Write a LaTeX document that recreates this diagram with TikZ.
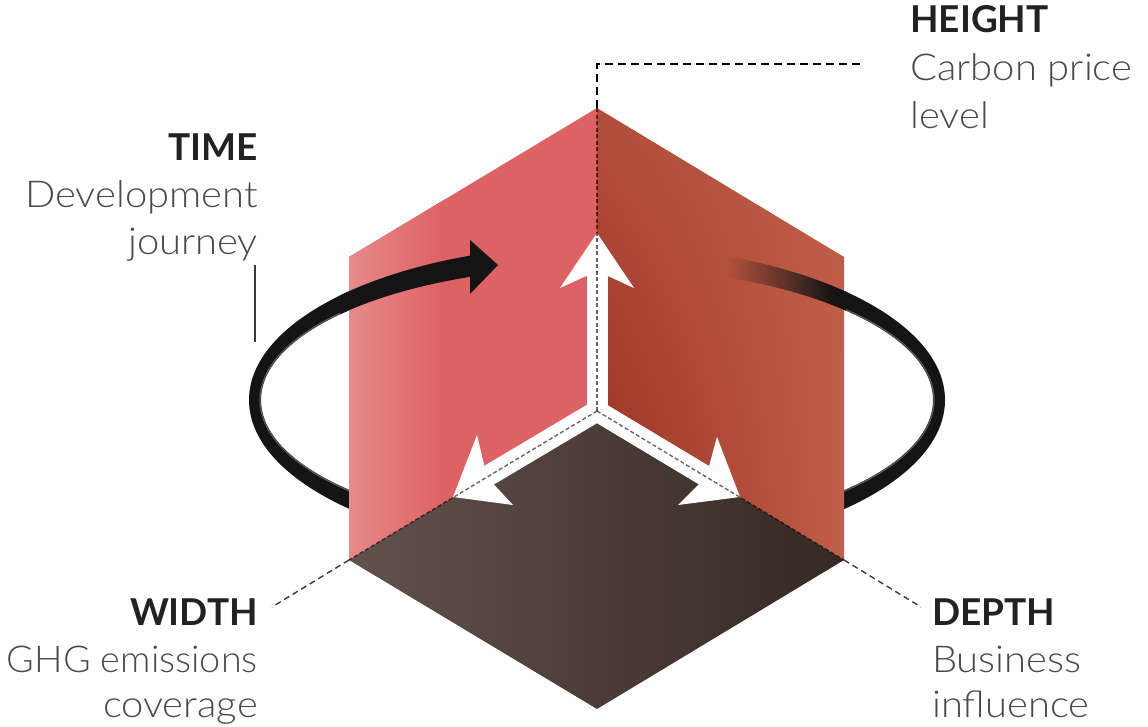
\documentclass[tikz,border=0pt]{standalone}
\usepackage{fontspec}
\setmainfont{Lato}[UprightFont=* Light, UprightFeatures={FakeStretch=1.08}, BoldFont=* Bold]
\newfontfamily\narrowlight{Lato}[UprightFont=* Light, UprightFeatures={FakeStretch=1.02}]
\usetikzlibrary{fadings,shadings}

\definecolor{wallL}{HTML}{DE6163}
\definecolor{wallLhi}{HTML}{E68A8A}
\definecolor{wallRul}{HTML}{B24F3B}
\definecolor{wallRur}{HTML}{BF5E48}
\definecolor{wallRll}{HTML}{962C1E}
\definecolor{wallRlr}{HTML}{C06049}
\definecolor{floorA}{HTML}{61524B}
\definecolor{floorM}{HTML}{55473F}
\definecolor{floorB}{HTML}{362922}
\definecolor{ribbon}{HTML}{141414}
\definecolor{ribbonedge}{HTML}{5A5A5A}
\definecolor{headtxt}{HTML}{222222}
\definecolor{bodytxt}{HTML}{4A4A4A}
\definecolor{leader}{HTML}{3A3A3A}

\tikzset{
  headlabel/.style={inner sep=0pt, font=\fontsize{37}{44}\selectfont\bfseries, text=headtxt},
  bodylabel/.style={inner sep=0pt, font=\fontsize{37}{44}\selectfont, text=bodytxt},
  leaderdash/.style={draw=leader, line width=1.4pt, dash pattern=on 6pt off 4pt},
  edgedash/.style={draw=black, draw opacity=0.6, line width=1.4pt, dash pattern=on 4pt off 2.5pt},
  whiteband/.style={draw=white, line width=21pt, line join=miter},
  ringband/.style={fill=ribbon, even odd rule}
}

\newcommand{\ringshape}{(597,400) ellipse [x radius=348pt, y radius=155pt]
  (597,400) ellipse [x radius=336pt, y radius=133pt]}

\begin{document}
\begin{tikzpicture}[x=1pt, y=-1pt]
\useasboundingbox (0,0) rectangle (1148,726);

% cube corners
\coordinate (T)  at (597,108);
\coordinate (O)  at (597,411);
\coordinate (LT) at (349,257);
\coordinate (LB) at (349,560);
\coordinate (RT) at (844,257);
\coordinate (RB) at (844,560);
\coordinate (B)  at (597,709);

% ring, back part (hidden where the cube stands in front)
\fill[ringband] \ringshape;
\draw[ribbonedge, line width=1.3pt] (597,400) ellipse [x radius=337pt, y radius=134pt];

% left wall
\fill[wallL] (T) -- (LT) -- (LB) -- (O) -- cycle;
\begin{scope}
  \clip (T) -- (LT) -- (LB) -- (O) -- cycle;
  \shade[left color=wallLhi, right color=wallL] (349,100) rectangle (445,570);
\end{scope}

% right wall
\shade[upper left=wallRul, upper right=wallRur, lower left=wallRll, lower right=wallRlr]
  (T) -- (RT) -- (RB) -- (O) -- cycle;

% floor
\shade[left color=floorA, middle color=floorM, right color=floorB]
  (O) -- (LB) -- (B) -- (RB) -- cycle;

% ring, front part over the left wall with its arrowhead
\begin{scope}
  \clip (340,0) rectangle (471,400);
  \fill[ringband] \ringshape;
\end{scope}
\fill[ribbon] (470,240) -- (498,265) -- (470,294) -- cycle;

% ring, front part fading in over the right wall
\begin{scope}[even odd rule]
  \clip \ringshape;
  \fill[ribbon, path fading=west] (727,230) rectangle (832,330);
  \fill[ribbon] (831,230) rectangle (846,330);
\end{scope}

% white axis arrows along the inner edges
\draw[whiteband] (486,477) -- (O) -- (707,477);
\draw[whiteband] (O) -- (597,272);
\fill[white] (597,233) -- (634,288) -- (597,271) -- (560,288) -- cycle;
\fill[white] (453,497) -- (477,435) -- (487,477) -- (513,505) -- cycle;
\fill[white] (740,497) -- (717,437) -- (706,477) -- (678,505) -- cycle;

% dashed inner edges
\draw[edgedash] (T) -- (O);
\draw[edgedash] (O) -- (LB);
\draw[edgedash] (O) -- (RB);

% labels
\node[headlabel, anchor=base west] (hHead) at (910,32) {HEIGHT};
\node[bodylabel, anchor=base west] (hL1) at (910,80) {Carbon price};
\node[bodylabel, anchor=base west] (hL2) at (910,128) {level};

\node[headlabel, anchor=base east] (tHead) at (258,160) {TIME};
\node[bodylabel, anchor=base east] (tL1) at (258,207) {Development};
\node[bodylabel, anchor=base east] (tL2) at (258,254) {journey};

\node[headlabel, anchor=base east] (wHead) at (258,625) {WIDTH};
\node[bodylabel, anchor=base east] (wL1) at (258,672) {\narrowlight GHG emissions};
\node[bodylabel, anchor=base east] (wL2) at (258,717) {coverage};

\node[headlabel, anchor=base west] (dHead) at (932,625) {DEPTH};
\node[bodylabel, anchor=base west] (dL1) at (932,672) {Business};
\node[bodylabel, anchor=base west] (dL2) at (932,717) {influence};

% leader lines
\coordinate (hEnd) at (862,64);
\coordinate (tTop) at (255,265);
\coordinate (tBot) at (255,342);
\coordinate (wEnd) at (272,607);
\coordinate (dEnd) at (921,607);
\draw[leaderdash, dash pattern=on 8pt off 5pt, draw=black] (T) |- (hEnd);
\draw[draw=leader, line width=1.4pt] (tTop) -- (tBot);
\draw[leaderdash] (LB) -- (wEnd);
\draw[leaderdash] (RB) -- (dEnd);
\end{tikzpicture}
\end{document}
